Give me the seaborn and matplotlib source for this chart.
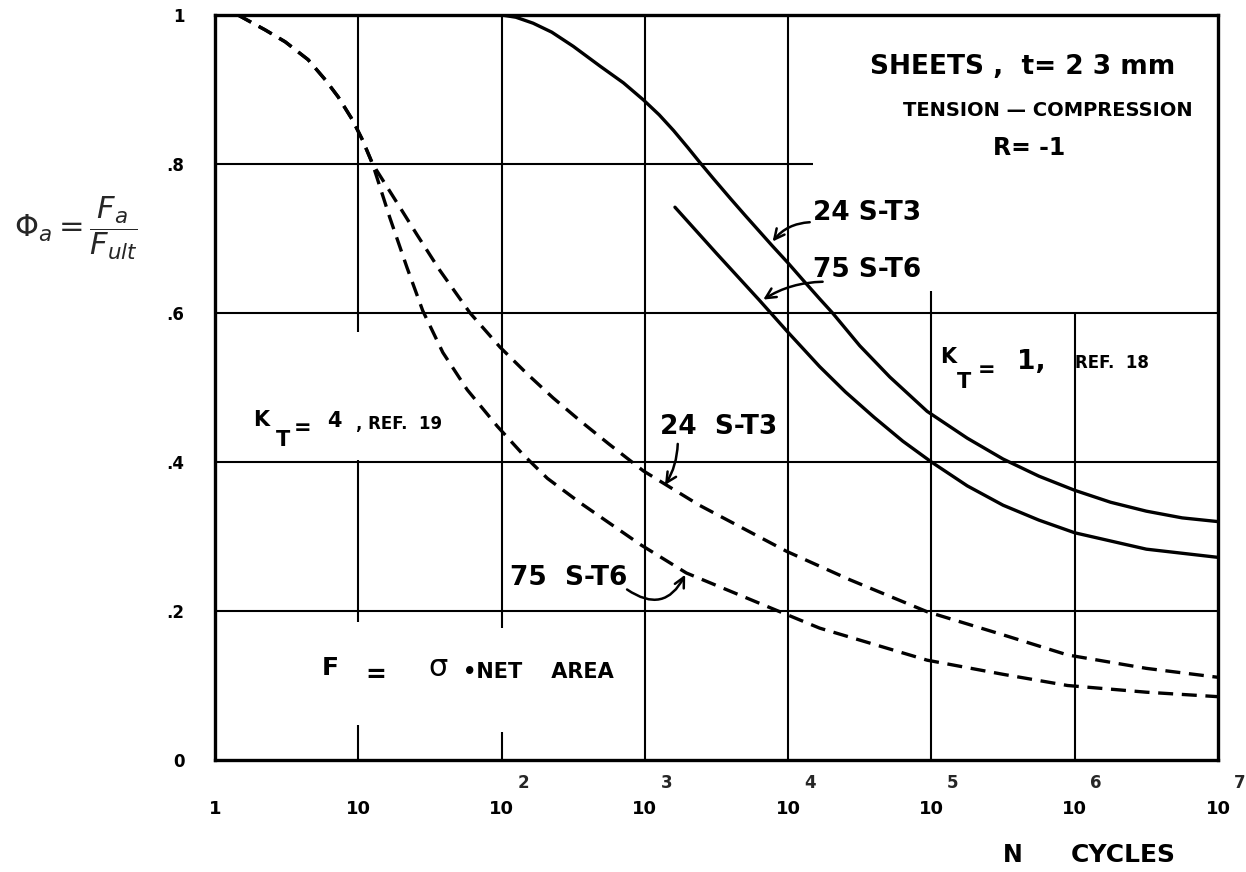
import numpy as np
import pandas as pd
import matplotlib
matplotlib.use("Agg")
import matplotlib.pyplot as plt
import seaborn as sns
from matplotlib.transforms import blended_transform_factory
from matplotlib.ticker import NullLocator

# ---------------- data (log10 of N cycles, Phi_a = Fa / Fult) ----------------
kt1_24st3_logn = [2.00, 2.10, 2.22, 2.35, 2.50, 2.69, 2.85, 2.99, 3.10, 3.20, 3.30, 3.38, 3.48, 3.60, 3.70, 3.89,
                  4.00, 4.10, 4.22, 4.31, 4.50, 4.71, 4.97, 5.25, 5.50, 5.75, 6.00, 6.25, 6.50, 6.75, 7.00]
kt1_24st3_phi  = [1.000, 0.997, 0.989, 0.977, 0.958, 0.931, 0.909, 0.886, 0.866, 0.845, 0.822, 0.803, 0.780, 0.753, 0.731, 0.690,
                  0.667, 0.645, 0.619, 0.600, 0.556, 0.514, 0.468, 0.432, 0.404, 0.381, 0.362, 0.346, 0.334, 0.325, 0.320]

kt1_75st6_logn = [3.21, 3.50, 3.80, 3.99, 4.22, 4.40, 4.60, 4.80, 5.00, 5.25, 5.50, 5.75, 6.00, 6.50, 7.00]
kt1_75st6_phi  = [0.742, 0.680, 0.617, 0.576, 0.528, 0.494, 0.460, 0.428, 0.400, 0.368, 0.342, 0.322, 0.305, 0.283, 0.272]

kt4_24st3_logn = [0.16, 0.35, 0.49, 0.65, 0.77, 0.86, 0.96, 1.03, 1.10, 1.29, 1.41, 1.57, 1.78, 1.99, 2.18, 2.36,
                  2.55, 2.75, 2.99, 3.38, 3.99, 4.43, 4.97, 5.50, 5.95, 6.50, 7.00]
kt4_24st3_phi  = [1.000, 0.980, 0.964, 0.940, 0.913, 0.890, 0.859, 0.832, 0.800, 0.742, 0.705, 0.657, 0.600, 0.554, 0.518, 0.486,
                  0.455, 0.424, 0.388, 0.342, 0.280, 0.242, 0.199, 0.168, 0.141, 0.123, 0.111]

kt4_75st6_logn = [0.16, 0.35, 0.49, 0.65, 0.77, 0.86, 0.96, 1.03, 1.10, 1.22, 1.34, 1.45, 1.59, 1.76, 1.97, 2.15,
                  2.32, 2.55, 2.97, 3.29, 3.93, 4.22, 4.97, 5.50, 5.95, 6.50, 7.00]
kt4_75st6_phi  = [1.000, 0.980, 0.964, 0.940, 0.913, 0.890, 0.859, 0.832, 0.800, 0.728, 0.661, 0.603, 0.547, 0.497, 0.448, 0.410,
                  0.378, 0.345, 0.289, 0.251, 0.200, 0.177, 0.134, 0.115, 0.100, 0.091, 0.085]

y_ticks = [0, 0.2, 0.4, 0.6, 0.8, 1.0]
y_tick_labels = ["0", ".2", ".4", ".6", ".8", "1"]
x_decades = [0, 1, 2, 3, 4, 5, 6, 7]
x_tick_labels = ["1", "10", "10", "10", "10", "10", "10", "10"]
x_exponents = ["", "", "2", "3", "4", "5", "6", "7"]

rows = []
for name, kt, lx, ly in [("24S-T3 KT1", "KT1", kt1_24st3_logn, kt1_24st3_phi),
                         ("75S-T6 KT1", "KT1", kt1_75st6_logn, kt1_75st6_phi),
                         ("24S-T3 KT4", "KT4", kt4_24st3_logn, kt4_24st3_phi),
                         ("75S-T6 KT4", "KT4", kt4_75st6_logn, kt4_75st6_phi)]:
    for a, b in zip(lx, ly):
        rows.append({"curve": name, "kt": kt, "N": 10.0 ** a, "phi": b})
df = pd.DataFrame(rows)

# ---------------- figure ----------------
sns.set_theme(style="white")
plt.rcParams['font.family'] = ['DejaVu Sans']
plt.rcParams['mathtext.fontset'] = 'dejavusans'

W, H = 1246, 872
fig = plt.figure(figsize=(W / 100, H / 100), dpi=100)
ax = fig.add_axes([215 / W, 1 - 760 / H, (1218 - 215) / W, (760 - 15) / H])
ax.set_xscale('log')
ax.set_xlim(1, 1e7)
ax.set_ylim(0, 1)

def P(logn, phi):
    return 10.0 ** logn, phi

# partial grid lines as in the original drawing
glw = 1.5
for y, x1 in [(0.8, 4.17), (0.6, 7), (0.4, 7), (0.2, 7)]:
    ax.hlines(y, 1, 10 ** x1, color='black', lw=glw, zorder=1)
for d, segs in [(1, [(0, 0.047), (0.185, 0.403), (0.574, 1.0)]),
                (2, [(0, 0.038), (0.177, 1.0)]),
                (3, [(0, 1.0)]), (4, [(0, 1.0)]),
                (5, [(0, 0.63)]), (6, [(0, 0.60)])]:
    for a, b in segs:
        ax.vlines(10.0 ** d, a, b, color='black', lw=glw, zorder=1)

sns.lineplot(data=df, x="N", y="phi", units="curve", style="kt", estimator=None,
             sort=False, color="black", linewidth=2.4, legend=False,
             dashes={"KT1": "", "KT4": (4.5, 2.6)}, ax=ax, zorder=3)
for ln in ax.get_lines():
    ln.set_solid_joinstyle('round')
    ln.set_dash_joinstyle('round')

ax.set_xlabel("")
ax.set_ylabel("")
for s in ax.spines.values():
    s.set_color('black')
    s.set_linewidth(2.4)

ax.set_yticks(y_ticks, labels=y_tick_labels)
ax.set_xticks([10.0 ** k for k in x_decades], labels=x_tick_labels)
ax.xaxis.set_minor_locator(NullLocator())
ax.tick_params(axis='both', length=0)
ax.tick_params(axis='y', pad=22, labelsize=12)
ax.tick_params(axis='x', pad=29, labelsize=13)
for lab in ax.get_xticklabels() + ax.get_yticklabels():
    lab.set_fontweight('bold')
    lab.set_color('black')

bt = blended_transform_factory(ax.transData, ax.transAxes)
for k, e in zip(x_decades, x_exponents):
    if e:
        ax.text(10.0 ** (k + 0.15), -0.031, e, transform=bt, ha='center', va='center',
                fontsize=12, fontweight='bold', clip_on=False)

def T(logn, phi, s, size, weight='bold', **kw):
    ax.text(10.0 ** logn, phi, s, fontsize=size, fontweight=weight, ha='left', va='center',
            color='black', clip_on=False, **kw)

# header
T(4.57, 0.930, "SHEETS ,  t= 2 3 mm", 19)
T(4.80, 0.872, "TENSION \u2014 COMPRESSION", 14)
T(5.43, 0.821, "R= -1", 17)

# curve labels
T(4.17, 0.734, "24 S-T3", 19)
T(4.17, 0.658, "75 S-T6", 19)
T(3.105, 0.447, "24  S-T3", 19)
T(2.06, 0.244, "75  S-T6", 19)

# K_T = 1
T(5.06, 0.541, "K", 15)
T(5.18, 0.507, "T", 15)
T(5.32, 0.523, "=", 15)
T(5.60, 0.534, "1,", 19)
T(6.00, 0.533, "REF.  18", 12)
# K_T = 4
T(0.265, 0.456, "K", 15)
T(0.426, 0.430, "T", 15)
T(0.551, 0.446, "=", 15)
T(0.78, 0.455, "4", 15)
T(0.984, 0.451, ", REF.  19", 12)

# F = sigma . net area
T(0.747, 0.1235, "F", 18)
T(1.047, 0.114, "=", 18)
T(1.486, 0.1235, "\u03c3", 22, weight='normal')
T(1.73, 0.118, "\u2022NET    AREA", 15)

# x axis title
T(5.50, -0.1275, "N", 17)
T(5.97, -0.1275, "CYCLES", 18)

# arrows
arr = dict(arrowstyle='->', color='black', lw=1.8, mutation_scale=18)
def A(tail, tip, rad):
    ax.annotate("", xy=P(*tip), xytext=P(*tail),
                arrowprops=dict(connectionstyle=f"arc3,rad={rad}", **arr), zorder=4)

A((4.17, 0.722), (3.88, 0.693), 0.25)
A((4.26, 0.642), (3.81, 0.616), 0.15)
A((3.23, 0.428), (3.13, 0.366), -0.15)
A((2.86, 0.231), (3.29, 0.252), 0.6)

# y axis label
fig.text(76 / W, 1 - 228 / H, r"$\Phi_a = \dfrac{F_a}{F_{ult}}$", fontsize=22,
         ha='center', va='center')

fig.savefig("out.png", dpi=100, facecolor='white')
